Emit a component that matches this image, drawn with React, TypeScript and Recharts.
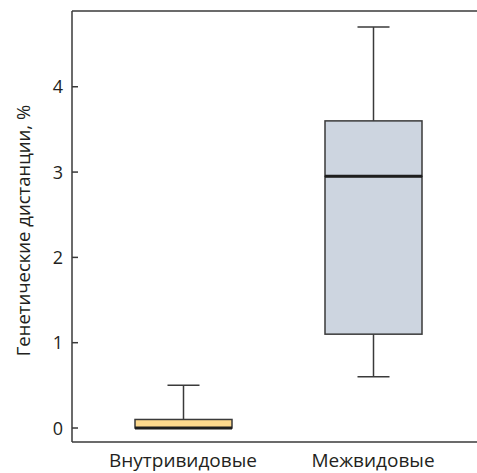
import { ComposedChart, Bar, XAxis, YAxis, ReferenceLine } from "recharts";

const categories = ["Внутривидовые", "Межвидовые"];
const mins = [0, 0.6];
const q1s = [0, 1.1];
const medians = [0, 2.95];
const q3s = [0.1, 3.6];
const maxs = [0.5, 4.7];
const boxColors = ["#FDD98D", "#CDD5E0"];
const yTicks = [0, 1, 2, 3, 4];
const yDomain = [-0.164, 4.888];

const FONT = "'Open Sans', sans-serif";
const INK = "#3a3a3a";
const TEXT = "#231F20";

const data = categories.map((name, i) => ({
  name,
  color: boxColors[i],
  base: mins[i],
  lowWhisker: q1s[i] - mins[i],
  lowBox: medians[i] - q1s[i],
  highBox: q3s[i] - medians[i],
  highWhisker: maxs[i] - q3s[i],
}));

const CAP = 32;

// whisker: vertical stem plus a cap at the far end
function Whisker(props: any) {
  const { x, y, width, height, capAtTop } = props;
  if (!height || height <= 0) return null;
  const cx = x + width / 2;
  const capY = capAtTop ? y : y + height;
  return (
    <g>
      <line x1={cx} x2={cx} y1={y} y2={y + height} stroke={INK} strokeWidth={1.5} />
      <line x1={cx - CAP / 2} x2={cx + CAP / 2} y1={capY} y2={capY} stroke={INK} strokeWidth={1.5} />
    </g>
  );
}

function BoxPart(props: any) {
  const { x, y, width, height, payload, drawMedian } = props;
  const h = Math.max(height || 0, 0);
  return (
    <g>
      {h > 0 && (
        <rect x={x} y={y} width={width} height={h} fill={payload.color} stroke={INK} strokeWidth={1.5} />
      )}
      {drawMedian && (
        <line x1={x} x2={x + width} y1={y + h} y2={y + h} stroke="#1e1e1e" strokeWidth={3} />
      )}
    </g>
  );
}

function YTick(props: any) {
  const { x, y, payload } = props;
  return (
    <text x={x} y={y} dy={6.5} textAnchor="end" fontFamily={FONT} fontSize={18} fill={TEXT}>
      {payload.value}
    </text>
  );
}

function XTick(props: any) {
  const { x, y, payload } = props;
  return (
    <text x={x} y={y} dy={16.5} textAnchor="middle" fontFamily={FONT} fontSize={19} fill={TEXT}>
      {payload.value}
    </text>
  );
}

function YLabel(props: any) {
  const { viewBox } = props;
  const cy = viewBox.y + viewBox.height / 2 + 4;
  const cx = 22;
  return (
    <text
      x={cx}
      y={cy}
      transform={`rotate(-90 ${cx} ${cy})`}
      textAnchor="middle"
      dominantBaseline="central"
      fontFamily={FONT}
      fontSize={18.5}
      fill={TEXT}
    >
      Генетические дистанции, %
    </text>
  );
}

export default function App() {
  return (
    <div style={{ position: "absolute", left: 0, top: 0 }}>
      <ComposedChart
        width={477}
        height={473}
        data={data}
        margin={{ top: 11, right: 0, left: 0, bottom: 0 }}
        barSize={97}
      >
        <XAxis
          dataKey="name"
          height={31}
          padding={{ left: 16, right: 9 }}
          tickLine={false}
          tick={<XTick />}
          axisLine={{ stroke: INK, strokeWidth: 1.5 }}
        />
        <YAxis
          width={72}
          type="number"
          domain={yDomain}
          ticks={yTicks}
          allowDataOverflow
          tickSize={-6}
          tickMargin={15}
          tick={<YTick />}
          tickLine={{ stroke: INK, strokeWidth: 1.5 }}
          axisLine={{ stroke: INK, strokeWidth: 1.5 }}
          label={{ content: <YLabel /> }}
        />
        <ReferenceLine y={yDomain[1]} stroke={INK} strokeWidth={1.5} ifOverflow="visible" />
        <Bar dataKey="base" stackId="box" fill="transparent" isAnimationActive={false} />
        <Bar
          dataKey="lowWhisker"
          stackId="box"
          isAnimationActive={false}
          shape={(p: any) => <Whisker {...p} capAtTop={false} />}
        />
        <Bar
          dataKey="lowBox"
          stackId="box"
          isAnimationActive={false}
          shape={(p: any) => <BoxPart {...p} drawMedian={false} />}
        />
        <Bar
          dataKey="highBox"
          stackId="box"
          isAnimationActive={false}
          shape={(p: any) => <BoxPart {...p} drawMedian={true} />}
        />
        <Bar
          dataKey="highWhisker"
          stackId="box"
          isAnimationActive={false}
          shape={(p: any) => <Whisker {...p} capAtTop={true} />}
        />
      </ComposedChart>
    </div>
  );
}
